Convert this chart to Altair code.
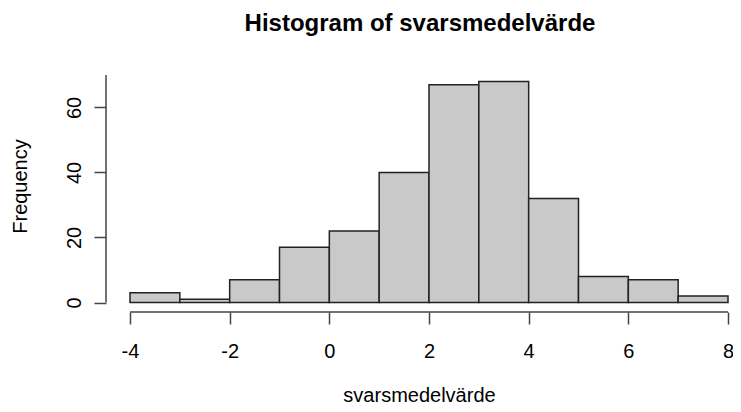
import altair as alt
import pandas as pd

# Histogram data
bin_start = [-4, -3, -2, -1, 0, 1, 2, 3, 4, 5, 6, 7]
bin_end = [-3, -2, -1, 0, 1, 2, 3, 4, 5, 6, 7, 8]
counts = [3, 1, 7, 17, 22, 40, 67, 68, 32, 8, 7, 2]

x_ticks = [-4, -2, 0, 2, 4, 6, 8]
y_ticks = [0, 10, 20, 30, 40, 50, 60, 70]
y_labelled = [0, 20, 40, 60]

title_text = "Histogram of svarsmedelvärde"
x_title = "svarsmedelvärde"
y_title = "Frequency"

FONT = "Liberation Sans"
PLOT_W = 626
PLOT_H = 239

df = pd.DataFrame({"start": bin_start, "end": bin_end, "count": counts, "zero": [0] * len(counts)})
xaxis_df = pd.DataFrame({"a": [x_ticks[0]], "b": [x_ticks[-1]]})
yaxis_df = pd.DataFrame({"a": [y_ticks[0]], "b": [y_ticks[-1]]})

# -4 at 24 px into the plot, 8 at 622 px
px_per_unit = (622 - 24) / 12.0
x_min = -4 - 24 / px_per_unit
x_max = x_min + PLOT_W / px_per_unit
x_scale = alt.Scale(domain=[x_min, x_max], nice=False, zero=False)
y_scale = alt.Scale(domain=[-2.923, 70.615], nice=False, zero=False)

label_test = " || ".join(f"datum.value == {v}" for v in y_labelled)

bars = alt.Chart(df).mark_rect(
    fill="#c9c9c9", stroke="#222222", strokeWidth=1.5
).encode(
    x=alt.X(
        "start:Q",
        scale=x_scale,
        axis=alt.Axis(
            values=x_ticks,
            domain=False,
            grid=False,
            tickSize=12,
            tickWidth=1.5,
            tickColor="#444444",
            labelExpr="toString(datum.value)",
            labelFont=FONT,
            labelFontSize=20,
            labelColor="black",
            labelBaseline="alphabetic",
            labelAlign="center",
            labelPadding=33,
            labelFlush=False,
            labelOverlap=False,
            title=x_title,
            titleFont=FONT,
            titleFontSize=20,
            titleFontWeight="normal",
            titleColor="black",
            titleAlign="center",
            titleBaseline="alphabetic",
            titleX=313,
            titleY=89,
        ),
    ),
    x2="end:Q",
    y=alt.Y(
        "count:Q",
        scale=y_scale,
        axis=alt.Axis(
            values=y_ticks,
            domain=False,
            grid=False,
            tickSize=12,
            tickWidth=1.5,
            tickColor="#444444",
            labelExpr=f"({label_test}) ? toString(datum.value) : ''",
            labelFont=FONT,
            labelFontSize=20,
            labelColor="black",
            labelAngle=270,
            labelAlign="center",
            labelBaseline="alphabetic",
            labelPadding=13.5,
            labelFlush=False,
            labelOverlap=False,
            title=y_title,
            titleFont=FONT,
            titleFontSize=20,
            titleFontWeight="normal",
            titleColor="black",
            titleAngle=270,
            titleAlign="center",
            titleBaseline="alphabetic",
            titleX=-80,
            titleY=113,
        ),
    ),
    y2="zero:Q",
)

x_axis_line = alt.Chart(xaxis_df).mark_rule(color="#444444", strokeWidth=1.5).encode(
    x=alt.X("a:Q", scale=x_scale),
    x2="b:Q",
    y=alt.value(PLOT_H),
)

y_axis_line = alt.Chart(yaxis_df).mark_rule(color="#444444", strokeWidth=1.5).encode(
    y=alt.Y("a:Q", scale=y_scale),
    y2="b:Q",
    x=alt.value(0),
)

chart = alt.layer(bars, x_axis_line, y_axis_line).properties(
    width=PLOT_W,
    height=PLOT_H,
    background="white",
    title=alt.TitleParams(
        title_text,
        font=FONT,
        fontSize=24,
        fontWeight="bold",
        color="black",
        anchor="middle",
        frame="group",
        baseline="alphabetic",
        offset=18,
        dx=1,
    ),
    autosize=alt.AutoSizeParams(type="none"),
    padding={"left": 98, "top": 65, "right": 1, "bottom": 92},
).configure_view(stroke=None, strokeWidth=0)

chart.save("out.html", embed_options={"renderer": "svg", "actions": False})
